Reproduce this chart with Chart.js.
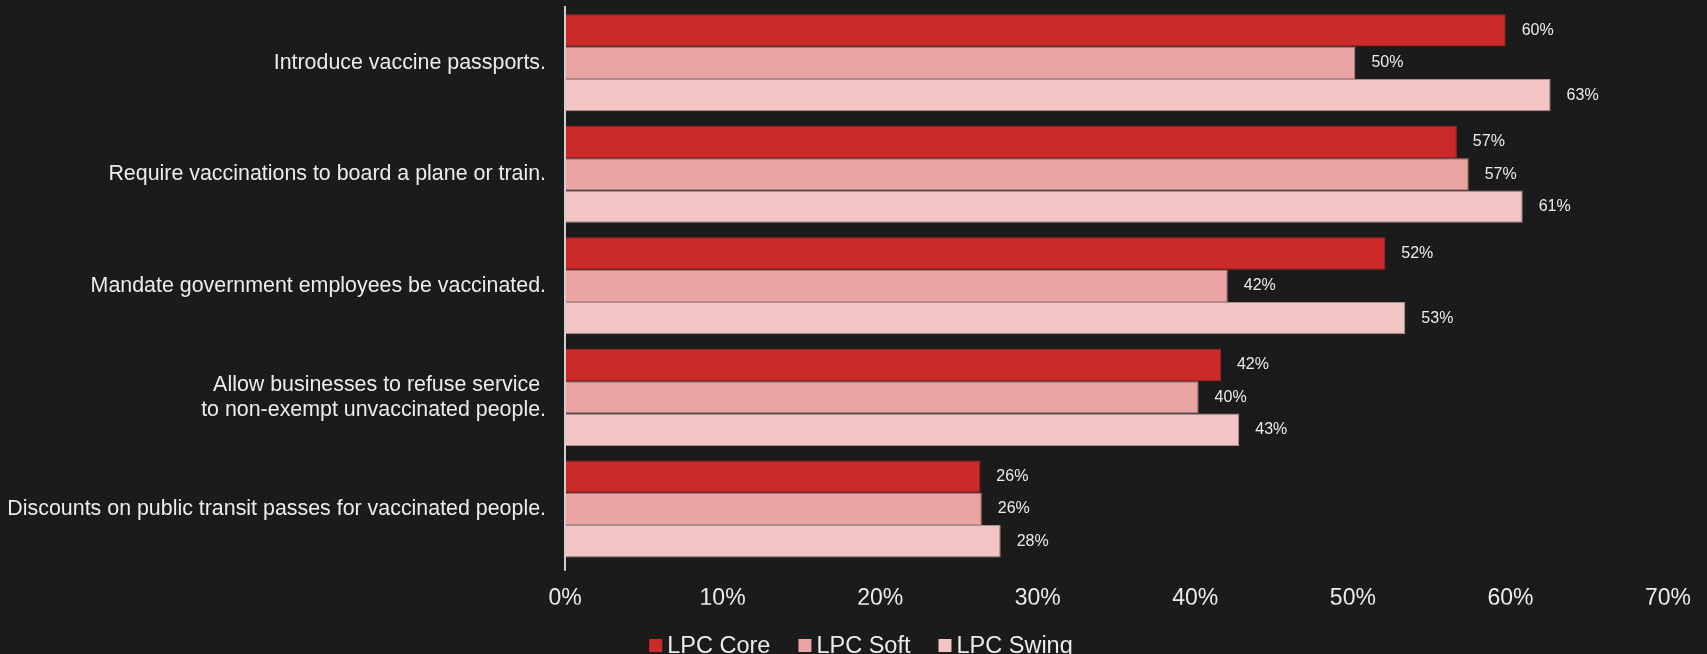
<!DOCTYPE html>
<html>
<head>
<meta charset="utf-8">
<script src="https://cdn.jsdelivr.net/npm/chart.js@4/dist/chart.umd.min.js"></script>
<style>
  body { margin: 0; background: #1b1b1b; }
  #wrap { width: 1707px; height: 654px; position: relative; }
</style>
</head>
<body>
<div id="wrap"><canvas id="chart"></canvas></div>
<script>
const categories = [
  'Introduce vaccine passports.',
  'Require vaccinations to board a plane or train.',
  'Mandate government employees be vaccinated.',
  ['Allow businesses to refuse service ', 'to non-exempt unvaccinated people.'],
  'Discounts on public transit passes for vaccinated people.'
]
const seriesNames = ['LPC Core', 'LPC Soft', 'LPC Swing']
const coreValues = [59.7, 56.6, 52.06, 41.63, 26.36]
const softValues = [50.16, 57.35, 42.06, 40.21, 26.45]
const swingValues = [62.55, 60.78, 53.33, 42.79, 27.65]
const xTicks = [0, 10, 20, 30, 40, 50, 60, 70]

const FONT = "'Liberation Sans', Arial, sans-serif"
const TEXT = '#ececec'

// value labels at the end of each bar
const valueLabels = {
  id: 'valueLabels',
  afterDatasetsDraw(chart) {
    const ctx = chart.ctx
    ctx.save()
    ctx.font = '16px ' + FONT
    ctx.fillStyle = TEXT
    ctx.textAlign = 'left'
    ctx.textBaseline = 'middle'
    chart.data.datasets.forEach((ds, i) => {
      chart.getDatasetMeta(i).data.forEach((bar, j) => {
        ctx.fillText(Math.round(ds.data[j]) + '%', bar.x + 16, bar.y)
      })
    })
    ctx.restore()
  }
}

// legend drawn by hand so the box/text gap matches
const bottomLegend = {
  id: 'bottomLegend',
  afterDraw(chart) {
    const ctx = chart.ctx
    ctx.save()
    ctx.font = '23.5px ' + FONT
    const box = 13, gap = 5, itemGap = 28
    const items = chart.data.datasets.map(ds => ({ text: ds.label, color: ds.backgroundColor, w: ctx.measureText(ds.label).width }))
    let total = items.reduce((s, it) => s + box + gap + it.w, 0) + itemGap * (items.length - 1)
    let x = 861 - total / 2
    items.forEach(it => {
      ctx.fillStyle = it.color
      ctx.fillRect(x, 639, box, box)
      ctx.fillStyle = TEXT
      ctx.textBaseline = 'alphabetic'
      ctx.fillText(it.text, x + box + gap, 653)
      x += box + gap + it.w + itemGap
    })
    ctx.restore()
  }
}

new Chart(document.getElementById('chart'), {
  type: 'bar',
  data: {
    labels: categories,
    datasets: [
      { label: seriesNames[0], data: coreValues, backgroundColor: '#cc292a', borderColor: '#b02424', borderWidth: 1 },
      { label: seriesNames[1], data: softValues, backgroundColor: '#eaa4a4', borderColor: '#b98484', borderWidth: 1 },
      { label: seriesNames[2], data: swingValues, backgroundColor: '#f2c4c4', borderColor: '#a89090', borderWidth: 1 }
    ]
  },
  options: {
    indexAxis: 'y',
    responsive: true,
    maintainAspectRatio: false,
    animation: false,
    categoryPercentage: 0.87,
    barPercentage: 1,
    layout: { autoPadding: false, padding: { left: 0, right: 39, top: 7, bottom: 49.3 } },
    plugins: {
      legend: { display: false },
      tooltip: { enabled: false }
    },
    scales: {
      x: {
        min: 0,
        max: 70,
        afterBuildTicks: axis => { axis.ticks = xTicks.map(v => ({ value: v })) },
        afterFit: axis => { axis.height = 40 },
        border: { display: false },
        grid: {
          drawOnChartArea: false,
          tickLength: 6,
          lineWidth: 2,
          color: c => c.index === 0 ? '#d0d0d0' : 'transparent'
        },
        ticks: {
          color: TEXT,
          font: { family: FONT, size: 23 },
          padding: 14,
          callback: v => v + '%'
        }
      },
      y: {
        afterFit: axis => { axis.width = 565; axis.paddingTop = 0; axis.paddingBottom = 0 },
        border: { display: true, color: '#d0d0d0', width: 2 },
        grid: { display: false, drawTicks: false },
        ticks: {
          color: TEXT,
          font: { family: FONT, size: 21.4, lineHeight: 1.15 },
          padding: 19
        }
      }
    }
  },
  plugins: [valueLabels, bottomLegend]
})
</script>
</body>
</html>
